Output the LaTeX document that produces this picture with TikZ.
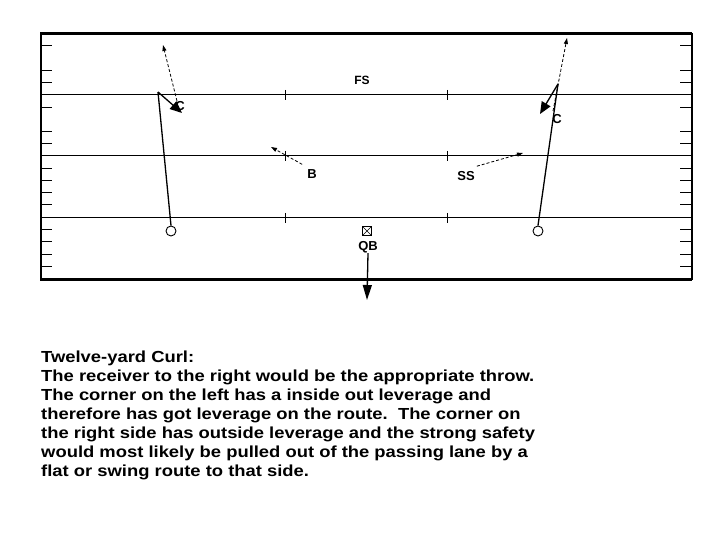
\documentclass[tikz,border=0pt]{standalone}
\usepackage{fontspec}
\setmainfont{Liberation Sans}
\newfontfamily\widefont[FakeStretch=1.15]{Liberation Sans}
\usetikzlibrary{arrows.meta}
\begin{document}
\begin{tikzpicture}[x=1pt,y=-1pt,
  lbl/.style={font=\bfseries\fontsize{13}{15}\selectfont, inner sep=0pt},
  player/.style={circle,draw,line width=0.9pt,minimum size=10pt,inner sep=0pt},
  route/.style={line width=1.3pt,-{Triangle[length=12pt,width=10pt]}},
  defmove/.style={line width=0.8pt,dashed,dash pattern=on 3pt off 2pt,-{Triangle[length=6pt,width=4pt]}},
  fieldline/.style={line width=1pt},
  tickmark/.style={line width=1pt}]
\useasboundingbox (0,0) rectangle (720,540);
% field frame
\draw[line width=3pt] (40,34) -- (692,34);
\draw[line width=3pt] (40,279) -- (692,279);
\draw[line width=2pt] (41,33) -- (41,280);
\draw[line width=2pt] (692,33) -- (692,280);
% yard lines
\foreach \yy in {95,156,218} {
  \draw[fieldline] (41,\yy) -- (692,\yy);
  \draw[tickmark] (285,\yy-5) -- (285,\yy+5);
  \draw[tickmark] (447,\yy-5) -- (447,\yy+5);
}
% side hash marks
\foreach \yy in {45.5,70.5,82.75,107.25,131.75,144,168.25,180.5,192.75,205,229.5,241.75,254,266.25} {
  \draw[tickmark] (41,\yy) -- (52,\yy);
  \draw[tickmark] (680,\yy) -- (692,\yy);
}
% labels
\node[lbl,font=\bfseries\fontsize{12}{14}\selectfont] (fs) at (362,80) {FS};
\node[lbl] (b) at (312,174) {B};
\node[lbl] (ss) at (466,176) {SS};
\node[lbl] (cl) at (180,106) {C};
\node[lbl] (cr) at (557,119) {C};
% players
\node[player] (wrl) at (171,231) {};
\node[player] (wrr) at (538,231) {};
\node[draw,line width=0.8pt,minimum size=9pt,inner sep=0pt,
  path picture={\draw[line width=0.6pt] (path picture bounding box.north west) -- (path picture bounding box.south east)
     (path picture bounding box.north east) -- (path picture bounding box.south west);}] (qbbox) at (367,231) {};
\node[lbl] (qb) at (368,247) {QB};
% route points
\coordinate (tl) at (158,92);
\coordinate (tr) at (558,84);
\coordinate (el) at (182,113);
\coordinate (er) at (540,114);
\coordinate (dl) at (163,45);
\coordinate (dr) at (567,38);
\coordinate (db) at (271,147);
\coordinate (dss) at (523,153);
\coordinate (qbend) at (367,300);
% receiver routes
\draw[line width=1.3pt] (wrl.north) -- (tl);
\draw[route] (tl) -- (el);
\draw[line width=1.3pt] (wrr.north) -- (tr);
\draw[route] (tr) -- (er);
% defender moves
\draw[defmove] (177,101) -- (dl);
\draw[defmove] (553,111) -- (dr);
\draw[defmove] (b.north west) ++(-5,-5) -- (db);
\draw[defmove] (ss.north east) ++(2,-5) -- (dss);
% QB drop
\draw[line width=1.3pt,-{Triangle[length=15pt,width=9pt]}] (qb.south) -- (qbend);
% text
\node[anchor=north west,inner sep=0pt,align=left,
  font=\widefont\bfseries\fontsize{16}{19}\selectfont] (txt) at (41,351)
  {Twelve-yard Curl:\\
   The receiver to the right would be the appropriate throw.\\
   The corner on the left has a inside out leverage and\\
   therefore has got leverage on the route.\ \ The corner on\\
   the right side has outside leverage and the strong safety\\
   would most likely be pulled out of the passing lane by a\\
   flat or swing route to that side.};
\end{tikzpicture}
\end{document}
